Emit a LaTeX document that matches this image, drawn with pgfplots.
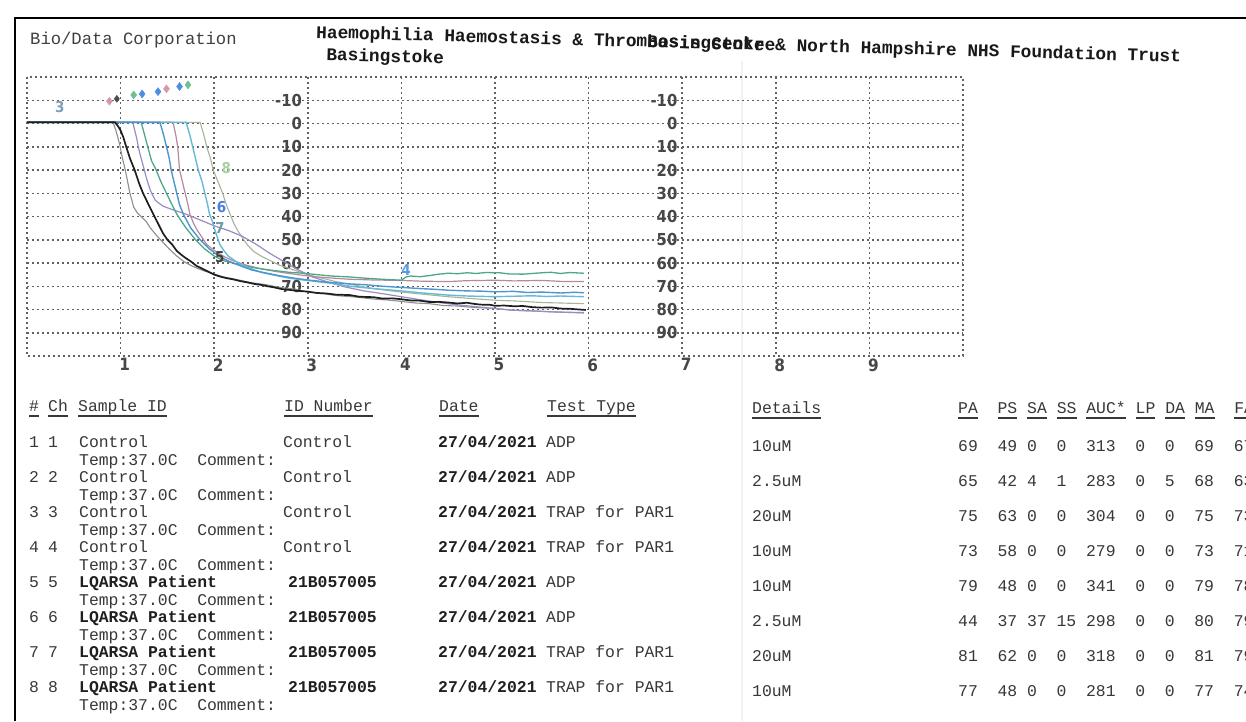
\documentclass[border=0pt]{standalone}
\usepackage{pgfplots}
\pgfplotsset{compat=1.18}
\usepackage{fontspec}
\setmainfont{Liberation Mono}
\newfontfamily\tickf{DejaVu Sans Condensed}
\definecolor{cGray}{HTML}{8E8E8E}
\definecolor{cBlack}{HTML}{1E1E1E}
\definecolor{cPurple}{HTML}{9C8CC4}
\definecolor{cTeal}{HTML}{4DA88A}
\definecolor{cBlue}{HTML}{4F95D0}
\definecolor{cMauve}{HTML}{B58A9E}
\definecolor{cCyan}{HTML}{66BAD8}
\definecolor{cGrGreen}{HTML}{A5B59C}
\newcommand\ul[1]{\sbox0{#1}\rlap{\rule[-5.5pt]{\wd0}{1.8pt}}\usebox0}
\tikzset{griddot/.style={line width=1.5pt, dash pattern=on 1.6pt off 3.4pt, black!62}}
\begin{document}
\begin{tikzpicture}[x=1pt,y=1pt]
\useasboundingbox (0,0) rectangle (1246,721);
\clip (0,0) rectangle (1246,721);
\fill[white] (0,0) rectangle (1246,721);
\draw[black!5, line width=1.5pt] (742,0) -- (742,660);
\draw[line width=2.2pt, black] (15,0) -- (15,703) -- (1246,703);

\begin{axis}[at={(27pt,365pt)}, anchor=south west, scale only axis,
  width=936pt, height=279pt, xmin=0, xmax=10, ymin=-20, ymax=100, y dir=reverse,
  xtick={1,2,3,4,5,6,7,8,9}, xticklabels={1,2,3,4,5,6,7,8,9},
  ytick={-10,0,10,20,30,40,50,60,70,80,90}, yticklabels={},
  grid=major, major grid style={griddot}, axis line style={griddot},
  major tick length=0pt, clip=false,
  xticklabel style={font=\tickf\bfseries\fontsize{17}{17}\selectfont, text=black!72, xshift=4pt, yshift=1pt}]
\pgfplotsinvokeforeach{-10,0,10,20,30,40,50,60,70,80,90}{
  \node[anchor=east, inner sep=0pt, font=\tickf\bfseries\fontsize{16.5}{16.5}\selectfont, text=black!72] at (axis cs:2.94,#1) {#1};
  \node[anchor=east, inner sep=0pt, font=\tickf\bfseries\fontsize{16.5}{16.5}\selectfont, text=black!72] at (axis cs:6.95,#1) {#1};
}
% s8
\addplot[cGrGreen, line width=1.1pt] coordinates {(0,-0.5)(1.85,-0.5)(1.89,5)(1.92,10)(1.96,15)(1.99,20)(2.04,25)(2.09,30)(2.13,35)(2.17,39)(2.21,43)(2.25,46)(2.3,49)(2.35,52)(2.42,55)(2.5,57)(2.6,59)(2.7,61)(2.85,63)(3.0,65)(3.15,66.5)(3.3,68)(3.5,69.5)(3.7,71)(3.85,71.8)(4.0,72.5)(4.25,73.5)(4.5,74.5)(4.75,75.3)(5.0,76)(5.25,76.4)(5.5,77)(5.7,77.2)(5.95,77.5)};
% s1
\addplot[cGray, line width=1.1pt] coordinates {(0,-0.5)(0.92,-0.5)(0.95,3)(0.99,9)(1.02,15)(1.05,20)(1.08,26)(1.10,30)(1.14,36)(1.18,38.5)(1.22,40)(1.27,42)(1.32,45)(1.38,48)(1.45,51)(1.52,54)(1.6,57)(1.68,59.5)(1.75,61)(1.82,62.3)(1.9,63.5)(2.0,64.8)(2.1,66)(2.25,67.2)(2.4,68.5)(2.55,69.3)(2.7,70.5)(2.85,71.2)(3.0,72.5)(3.15,73.1)(3.3,74)(3.5,74.6)(3.7,75.5)(3.85,75.9)(4.0,76.5)(4.15,77.2)(4.3,77.5)(4.45,78.3)(4.6,78.5)(4.8,79.2)(5.0,79.5)(5.15,80.2)(5.3,80.5)(5.45,80.7)(5.6,81)(5.8,81.3)(5.95,81.5)};
% s3
\addplot[cPurple, line width=1.2pt] coordinates {(0,-0.5)(1.13,-0.5)(1.17,6)(1.2,12)(1.24,18)(1.28,24)(1.32,29)(1.37,33)(1.45,35.5)(1.55,37)(1.7,39)(1.85,41.5)(2.0,44)(2.15,46)(2.3,48.5)(2.45,52)(2.6,56)(2.75,59.5)(2.9,63)(3.05,66)(3.2,68)(3.4,70.3)(3.6,72)(3.8,73.2)(4.0,74.5)(4.2,75.8)(4.4,77)(4.6,78)(4.8,78.8)(5.0,79.6)(5.2,80.3)(5.4,80.6)(5.6,81)(5.8,81.2)(5.95,81.3)};
% s6
\addplot[cMauve, line width=1.2pt] coordinates {(0,-0.5)(1.56,-0.5)(1.59,5)(1.61,10)(1.62,15)(1.63,20)(1.66,25)(1.69,30)(1.72,35)(1.74,39)(1.78,43)(1.82,46)(1.87,49)(1.92,52)(1.98,54)(2.05,56)(2.12,57.5)(2.2,59)(2.35,61)(2.5,62.5)(2.65,63.6)(2.8,64.5)(2.95,65.3)(3.1,66)(3.3,66.6)(3.45,67)(3.7,67.3)(4.0,67.5)(4.2,67.8)(4.5,68)(4.7,67.6)(5.0,67.4)(5.2,67.7)(5.5,67.5)(5.7,67.9)(5.95,68)};
% s4
\addplot[cTeal, line width=1.3pt] coordinates {(0,-0.5)(1.22,-0.5)(1.25,4)(1.29,10)(1.33,16)(1.38,20)(1.43,25)(1.49,30)(1.55,35)(1.6,39)(1.65,42)(1.7,45)(1.75,47.5)(1.8,50)(1.85,52)(1.9,54)(1.95,55.5)(2.0,57)(2.05,58)(2.1,59)(2.2,60)(2.3,61)(2.4,61.8)(2.5,62.5)(2.65,63.3)(2.8,64)(2.95,64.4)(3.1,65)(3.25,65.6)(3.45,66)(3.6,66.5)(3.8,67)(3.9,67.2)(4.0,67.4)(4.05,66)(4.1,65.6)(4.2,65.9)(4.3,65.4)(4.4,64.8)(4.5,64.4)(4.6,64.6)(4.7,64.2)(4.8,64.5)(4.9,64.1)(5.05,64.2)(5.15,64.7)(5.3,64.8)(5.4,64.5)(5.5,64.2)(5.6,64)(5.7,64.5)(5.8,64.1)(5.95,64.4)};
% s7
\addplot[cCyan, line width=1.4pt] coordinates {(0,-0.5)(1.7,-0.5)(1.74,5)(1.77,10)(1.8,15)(1.83,20)(1.87,25)(1.9,30)(1.93,35)(1.95,39)(1.98,42)(2.0,45)(2.03,48.5)(2.06,52)(2.1,54.5)(2.15,57)(2.22,59)(2.3,61)(2.4,62.5)(2.5,64)(2.65,65.3)(2.8,66.5)(2.95,67.3)(3.1,68)(3.3,69)(3.45,70)(3.7,71)(4.0,72)(4.2,72.8)(4.35,73.3)(4.5,73.8)(4.7,74.2)(5.0,74.5)(5.2,74.3)(5.4,74.1)(5.55,74.4)(5.7,74.2)(5.95,74.5)};
% s5
\addplot[cBlue, line width=1.4pt] coordinates {(0,-0.5)(1.42,-0.5)(1.46,5)(1.49,10)(1.52,15)(1.54,20)(1.57,25)(1.6,30)(1.63,35)(1.67,39)(1.71,42)(1.75,45)(1.8,47.5)(1.85,50)(1.9,52)(1.95,54)(2.0,55.5)(2.05,57)(2.12,58.5)(2.2,60)(2.3,61.5)(2.4,63)(2.55,64.3)(2.7,65.5)(2.85,66.5)(3.0,67.3)(3.2,68.2)(3.45,69)(3.6,69.3)(3.8,70)(4.0,70.5)(4.2,71)(4.35,71.3)(4.5,71.7)(4.7,72)(4.85,72.1)(5.0,72.4)(5.2,72.2)(5.35,72.7)(5.5,72.5)(5.7,72.9)(5.85,72.6)(5.95,72.8)};
% s2 black
\addplot[cBlack, line width=1.7pt] coordinates {(0,-0.5)(0.94,-0.5)(0.97,1)(1.0,3)(1.03,6)(1.06,10)(1.1,15)(1.15,20)(1.2,26)(1.24,30)(1.3,35)(1.35,39)(1.4,43)(1.45,47)(1.5,50)(1.55,52)(1.6,54.8)(1.65,56.5)(1.7,58)(1.75,59.3)(1.81,61.2)(1.88,62.6)(1.95,64)(2.0,65)(2.06,65.8)(2.13,66.5)(2.2,67)(2.28,67.8)(2.35,68.3)(2.43,69)(2.5,69.4)(2.57,70)(2.63,70.4)(2.72,71.2)(2.81,71.6)(2.9,72)(3.0,72.3)(3.1,72.9)(3.2,73.1)(3.3,73.6)(3.45,73.8)(3.55,74.5)(3.7,74.7)(3.8,75.3)(3.9,75.2)(3.98,75.5)(4.1,76.1)(4.2,76.2)(4.3,76.8)(4.4,76.7)(4.5,77)(4.6,77.4)(4.7,77.1)(4.78,77.6)(4.85,77.9)(4.95,78)(5.0,78.4)(5.1,78.3)(5.2,78.6)(5.3,78.5)(5.4,79)(5.5,79.2)(5.6,79.1)(5.7,79.6)(5.8,79.7)(5.9,80)(5.97,80.2)};
% markers at top
\addplot[only marks, mark=diamond*, mark size=4pt, color={rgb,255:red,212;green,154;blue,168}] coordinates {(0.88,-9.6)(1.49,-14.9)};
\addplot[only marks, mark=diamond*, mark size=3.5pt, color=black!70] coordinates {(0.96,-10.6)};
\addplot[only marks, mark=diamond*, mark size=4pt, color={rgb,255:red,111;green,191;blue,144}] coordinates {(1.14,-12.3)(1.72,-16.6)};
\addplot[only marks, mark=diamond*, mark size=4pt, color={rgb,255:red,80;green,140;blue,224}] coordinates {(1.23,-12.7)(1.40,-13.7)(1.63,-15.9)};
% channel labels
\node[font=\tickf\bfseries\fontsize{15}{15}\selectfont, text={rgb,255:red,127;green,159;blue,184}] at (axis cs:0.35,-7) {3};
\node[font=\tickf\bfseries\fontsize{15}{15}\selectfont, text={rgb,255:red,168;green,208;blue,160}] at (axis cs:2.13,19) {8};
\node[font=\tickf\bfseries\fontsize{15}{15}\selectfont, text={rgb,255:red,74;green,127;blue,224}] at (axis cs:2.08,36) {6};
\node[font=\tickf\bfseries\fontsize{15}{15}\selectfont, text={rgb,255:red,106;green,160;blue,160}] at (axis cs:2.06,45) {7};
\node[font=\tickf\bfseries\fontsize{15}{15}\selectfont, text=black!75] at (axis cs:2.06,57.5) {5};
\node[font=\tickf\bfseries\fontsize{15}{15}\selectfont, text={rgb,255:red,90;green,154;blue,224}] at (axis cs:4.05,63) {4};
\end{axis}

% header texts
\node[anchor=base west, inner sep=0pt, font=\fontsize{17.2}{17.2}\selectfont, text=black!75] at (30,676) {Bio/Data Corporation};
\begin{scope}[rotate around={-1.6:(316,683)}]
\node[transform shape, anchor=base west, inner sep=0pt, font=\bfseries\fontsize{17.8}{17.8}\selectfont, text=black!90] at (316,683) {Haemophilia Haemostasis \& Thrombosis Centre};
\node[transform shape, anchor=base west, inner sep=0pt, font=\bfseries\fontsize{17.8}{17.8}\selectfont, text=black!90] at (647,683) {Basingstoke \& North Hampshire NHS Foundation Trust};
\node[transform shape, anchor=base west, inner sep=0pt, font=\bfseries\fontsize{17.8}{17.8}\selectfont, text=black!90] at (326.7,661) {Basingstoke};
\end{scope}

% table header
\tikzset{tb/.style={anchor=base west, inner sep=0pt, font=\fontsize{16.4}{16.4}\selectfont, text=black!78},
         tbb/.style={anchor=base west, inner sep=0pt, font=\bfseries\fontsize{16.4}{16.4}\selectfont, text=black!88}}
\node[tb] at (29,310) {\ul{\#}};
\node[tb] at (48,310) {\ul{Ch}};
\node[tb] at (78,310) {\ul{Sample ID}};
\node[tb] at (284,310) {\ul{ID Number}};
\node[tb] at (439,310) {\ul{Date}};
\node[tb] at (547,310) {\ul{Test Type}};
\node[tb] at (752,307.5) {\ul{Details}};
\foreach \c/\t in {0/PA,4/PS,7/SA,10/SS,13/AUC*,18/LP,21/DA,24/MA,28/FA}{
  \node[tb] at (958+\c*9.86,307.5) {\ul{\t}};
}

% rows
\foreach \i/\sid/\idn/\tt/\det/\nums/\bold in {
 1/Control/Control/ADP/10uM/{69~~49~0~~0~~313~~0~~0~~69~~67}/0,
 2/Control/Control/ADP/2.5uM/{65~~42~4~~1~~283~~0~~5~~68~~63}/0,
 3/Control/Control/TRAP for PAR1/20uM/{75~~63~0~~0~~304~~0~~0~~75~~73}/0,
 4/Control/Control/TRAP for PAR1/10uM/{73~~58~0~~0~~279~~0~~0~~73~~71}/0,
 5/LQARSA Patient/21B057005/ADP/10uM/{79~~48~0~~0~~341~~0~~0~~79~~78}/1,
 6/LQARSA Patient/21B057005/ADP/2.5uM/{44~~37~37~15~298~~0~~0~~80~~79}/1,
 7/LQARSA Patient/21B057005/TRAP for PAR1/20uM/{81~~62~0~~0~~318~~0~~0~~81~~79}/1,
 8/LQARSA Patient/21B057005/TRAP for PAR1/10uM/{77~~48~0~~0~~281~~0~~0~~77~~74}/1}{
  \pgfmathsetmacro\yb{721-447.7-35*(\i-1)}
  \pgfmathsetmacro\yt{721-465.7-35*(\i-1)}
  \pgfmathsetmacro\yr{721-451.2-35.05*(\i-1)}
  \node[tb] at (29,\yb) {\i};
  \node[tb] at (48,\yb) {\i};
  \ifnum\bold=1
    \node[tbb] at (79,\yb) {\sid};
    \node[tbb] at (288,\yb) {\idn};
  \else
    \node[tb] at (79,\yb) {\sid};
    \node[tb] at (283,\yb) {\idn};
  \fi
  \node[tbb] at (438,\yb) {27/04/2021};
  \node[tb] at (546,\yb) {\tt};
  \node[tb] at (79,\yt) {Temp:37.0C~~Comment:};
  \node[tb] at (752,\yr) {\det};
  \node[tb] at (958,\yr) {\nums};
}
\end{tikzpicture}
\end{document}
